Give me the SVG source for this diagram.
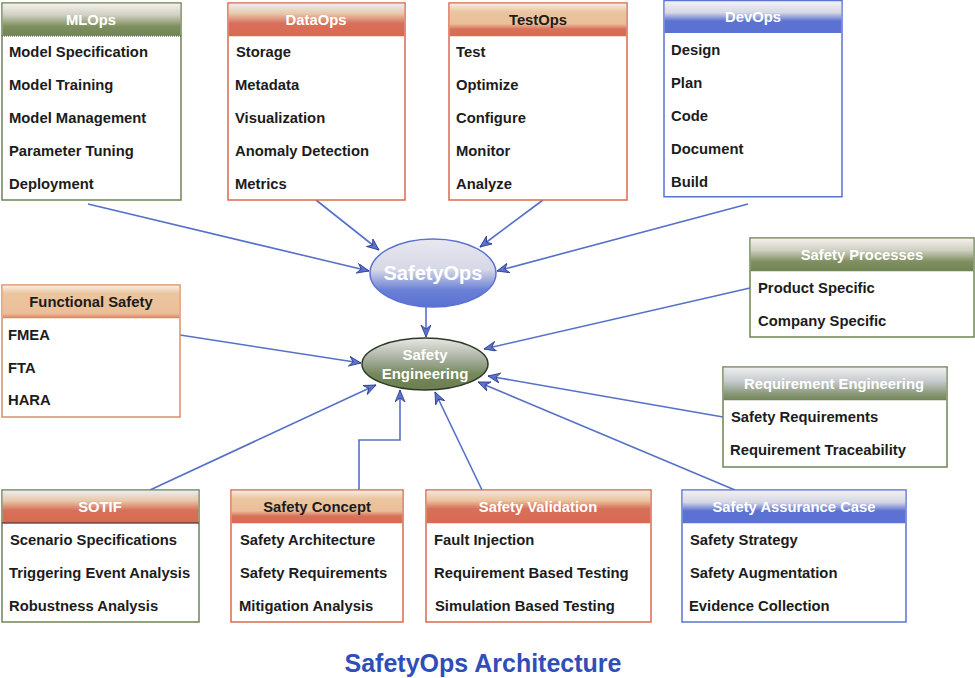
<svg xmlns="http://www.w3.org/2000/svg" width="975" height="678" viewBox="0 0 975 678">
<style>
.box{fill:#ffffff;stroke-width:1.5}
.it{font-family:"Liberation Sans",Arial,sans-serif;font-weight:bold;font-size:14.8px;fill:#1c1c1c}
.hw{font-family:"Liberation Sans",Arial,sans-serif;font-weight:bold;font-size:14.8px;fill:#ffffff;text-anchor:middle}
.hb{font-family:"Liberation Sans",Arial,sans-serif;font-weight:bold;font-size:14.8px;fill:#1c1c1c;text-anchor:middle}
.ol{stroke:#6f8456}
.rd{stroke:#d96a50}
.bl{stroke:#5a72d2}
.pc{stroke:#d9906a}
.conn{fill:none;stroke:#5570c8;stroke-width:1.6}
.title{font-family:"Liberation Sans",Arial,sans-serif;font-weight:bold;font-size:25px;fill:#2f4fb8;text-anchor:middle}
.ew{font-family:"Liberation Sans",Arial,sans-serif;font-weight:bold;fill:#ffffff;text-anchor:middle}
</style>
<defs>
<linearGradient id="gOl" x1="0" y1="0" x2="0" y2="1">
<stop offset="0" stop-color="#f4f0ec"/><stop offset="0.35" stop-color="#d0d0c4"/><stop offset="0.7" stop-color="#80905f"/><stop offset="1" stop-color="#6f8456"/>
</linearGradient>
<linearGradient id="gRd" x1="0" y1="0" x2="0" y2="1">
<stop offset="0" stop-color="#ececf0"/><stop offset="0.3" stop-color="#e8c8aa"/><stop offset="0.6" stop-color="#d8705a"/><stop offset="1" stop-color="#d86a50"/>
</linearGradient>
<linearGradient id="gPc" x1="0" y1="0" x2="0" y2="1">
<stop offset="0" stop-color="#f6ecdf"/><stop offset="0.25" stop-color="#ebc59e"/><stop offset="0.62" stop-color="#e9bf98"/><stop offset="0.78" stop-color="#d9705a"/><stop offset="1" stop-color="#d86a50"/>
</linearGradient>
<linearGradient id="gFs" x1="0" y1="0" x2="0" y2="1">
<stop offset="0" stop-color="#f6ecdf"/><stop offset="0.25" stop-color="#ebc59e"/><stop offset="0.85" stop-color="#e9bf98"/><stop offset="1" stop-color="#d9805f"/>
</linearGradient>
<linearGradient id="gSv" x1="0" y1="0" x2="0" y2="1">
<stop offset="0" stop-color="#f2e6d8"/><stop offset="0.3" stop-color="#ebc49e"/><stop offset="0.55" stop-color="#d8705a"/><stop offset="1" stop-color="#d86a50"/>
</linearGradient>
<linearGradient id="gBl" x1="0" y1="0" x2="0" y2="1">
<stop offset="0" stop-color="#f0f0f4"/><stop offset="0.35" stop-color="#d8d8e4"/><stop offset="0.62" stop-color="#5b72d2"/><stop offset="1" stop-color="#5a72d2"/>
</linearGradient>
<linearGradient id="gGo" x1="0" y1="0" x2="0" y2="1">
<stop offset="0" stop-color="#eeeeee"/><stop offset="0.4" stop-color="#c8ccd0"/><stop offset="0.8" stop-color="#8a9878"/><stop offset="1" stop-color="#6f8456"/>
</linearGradient>
<linearGradient id="eBl" x1="0" y1="0" x2="0" y2="1">
<stop offset="0" stop-color="#e8e8f0"/><stop offset="0.45" stop-color="#d6d8e6"/><stop offset="0.75" stop-color="#6a80d6"/><stop offset="1" stop-color="#5a72d2"/>
</linearGradient>
<linearGradient id="eOl" x1="0" y1="0" x2="0" y2="1">
<stop offset="0" stop-color="#e8e8e4"/><stop offset="0.4" stop-color="#a8b0a0"/><stop offset="0.7" stop-color="#74885a"/><stop offset="1" stop-color="#6a7e50"/>
</linearGradient>
<marker id="arr" markerUnits="userSpaceOnUse" markerWidth="14" markerHeight="12" refX="12" refY="5" orient="auto">
<path d="M0,0 L12,5 L0,10 L4,5 Z" fill="#5a72d2" stroke="#2a3a80" stroke-width="0.8"/>
</marker>
</defs>

<g id="connectors">
<line class="conn" x1="88" y1="204" x2="369" y2="271" marker-end="url(#arr)"/>
<line class="conn" x1="316" y1="200" x2="379" y2="250" marker-end="url(#arr)"/>
<line class="conn" x1="543" y1="200" x2="480" y2="247" marker-end="url(#arr)"/>
<line class="conn" x1="748" y1="204" x2="497" y2="271" marker-end="url(#arr)"/>
<line class="conn" x1="426" y1="307" x2="426" y2="337" marker-end="url(#arr)"/>
<line class="conn" x1="180" y1="335" x2="361" y2="363" marker-end="url(#arr)"/>
<line class="conn" x1="750" y1="288" x2="484" y2="349" marker-end="url(#arr)"/>
<line class="conn" x1="723" y1="417" x2="488" y2="376" marker-end="url(#arr)"/>
<line class="conn" x1="150" y1="490" x2="376" y2="385" marker-end="url(#arr)"/>
<polyline class="conn" points="359,490 359,440 400,440 400,390" marker-end="url(#arr)"/>
<line class="conn" x1="482" y1="490" x2="435" y2="392" marker-end="url(#arr)"/>
<line class="conn" x1="735" y1="490" x2="478" y2="382" marker-end="url(#arr)"/>
</g>

<g id="mlops">
<rect class="box ol" x="2" y="3" width="179" height="197"/>
<rect x="2.75" y="3.75" width="177.5" height="32" fill="url(#gOl)"/>
<line x1="2" y1="36" x2="181" y2="36" stroke="#3a4a30" stroke-width="1" stroke-dasharray="1,1"/>
<text class="hw" x="91" y="25">MLOps</text>
<text class="it" x="9" y="57">Model Specification</text>
<text class="it" x="9" y="90">Model Training</text>
<text class="it" x="9" y="123">Model Management</text>
<text class="it" x="9" y="156">Parameter Tuning</text>
<text class="it" x="9" y="189">Deployment</text>
</g>

<g id="dataops">
<rect class="box rd" x="228" y="3" width="177" height="197"/>
<rect x="228.75" y="3.75" width="175.5" height="32.5" fill="url(#gRd)"/>
<text class="hw" x="316" y="25">DataOps</text>
<text class="it" x="236" y="57">Storage</text>
<text class="it" x="235" y="90">Metadata</text>
<text class="it" x="235" y="123">Visualization</text>
<text class="it" x="235" y="156">Anomaly Detection</text>
<text class="it" x="235" y="189">Metrics</text>
</g>

<g id="testops">
<rect class="box rd" x="449" y="3" width="178" height="197"/>
<rect x="449.75" y="3.75" width="176.5" height="32.5" fill="url(#gPc)"/>
<text class="hb" x="538" y="25">TestOps</text>
<text class="it" x="456" y="57">Test</text>
<text class="it" x="456" y="90">Optimize</text>
<text class="it" x="456" y="123">Configure</text>
<text class="it" x="456" y="156">Monitor</text>
<text class="it" x="456" y="189">Analyze</text>
</g>

<g id="devops">
<rect class="box bl" x="664" y="0.75" width="178" height="196"/>
<rect x="664.75" y="1.5" width="176.5" height="31.5" fill="url(#gBl)"/>
<text class="hw" x="753" y="22">DevOps</text>
<text class="it" x="671" y="55">Design</text>
<text class="it" x="671" y="88">Plan</text>
<text class="it" x="671" y="121">Code</text>
<text class="it" x="671" y="154">Document</text>
<text class="it" x="671" y="187">Build</text>
</g>

<g id="safetyops">
<ellipse cx="433" cy="273" rx="63" ry="34" fill="url(#eBl)" stroke="#5a72d2" stroke-width="1.5"/>
<text class="ew" x="433" y="280" font-size="20">SafetyOps</text>
</g>

<g id="safety-engineering">
<ellipse cx="425" cy="364" rx="63" ry="26" fill="url(#eOl)" stroke="#2e3a26" stroke-width="1.5"/>
<text class="ew" x="425" y="360" font-size="15">Safety</text>
<text class="ew" x="425" y="379" font-size="15">Engineering</text>
</g>

<g id="functional-safety">
<rect class="box pc" x="2" y="285" width="178" height="132"/>
<rect x="2.75" y="285.75" width="176.5" height="32.5" fill="url(#gFs)"/>
<text class="hb" x="91" y="307">Functional Safety</text>
<text class="it" x="8" y="340">FMEA</text>
<text class="it" x="8" y="373">FTA</text>
<text class="it" x="8" y="405">HARA</text>
</g>

<g id="safety-processes">
<rect class="box ol" x="750" y="238" width="224" height="99"/>
<rect x="750.75" y="238.75" width="222.5" height="32.5" fill="url(#gOl)"/>
<text class="hw" x="862" y="260">Safety Processes</text>
<text class="it" x="758" y="293">Product Specific</text>
<text class="it" x="758" y="326">Company Specific</text>
</g>

<g id="requirement-engineering">
<rect class="box ol" x="723" y="367" width="224" height="100"/>
<rect x="723.75" y="367.75" width="222.5" height="32.5" fill="url(#gGo)"/>
<text class="hw" x="834" y="389">Requirement Engineering</text>
<text class="it" x="731" y="422">Safety Requirements</text>
<text class="it" x="730" y="455">Requirement Traceability</text>
</g>

<g id="sotif">
<rect class="box ol" x="2" y="490" width="197" height="132"/>
<rect x="2.75" y="490.75" width="195.5" height="32.5" fill="url(#gRd)"/>
<line x1="2" y1="523" x2="199" y2="523" stroke="#2a2a2a" stroke-width="1"/>
<text class="hw" x="100" y="512">SOTIF</text>
<text class="it" x="10" y="545">Scenario Specifications</text>
<text class="it" x="9" y="578">Triggering Event Analysis</text>
<text class="it" x="9" y="611">Robustness Analysis</text>
</g>

<g id="safety-concept">
<rect class="box rd" x="231" y="490" width="172" height="132"/>
<rect x="231.75" y="490.75" width="170.5" height="32.5" fill="url(#gPc)"/>
<text class="hb" x="317" y="512">Safety Concept</text>
<text class="it" x="240" y="545">Safety Architecture</text>
<text class="it" x="240" y="578">Safety Requirements</text>
<text class="it" x="239" y="611">Mitigation Analysis</text>
</g>

<g id="safety-validation">
<rect class="box rd" x="426" y="490" width="225" height="132"/>
<rect x="426.75" y="490.75" width="223.5" height="32.5" fill="url(#gSv)"/>
<text class="hw" x="538" y="512">Safety Validation</text>
<text class="it" x="434" y="545">Fault Injection</text>
<text class="it" x="434" y="578">Requirement Based Testing</text>
<text class="it" x="435" y="611">Simulation Based Testing</text>
</g>

<g id="safety-assurance-case">
<rect class="box bl" x="682" y="490" width="224" height="132"/>
<rect x="682.75" y="490.75" width="222.5" height="32.5" fill="url(#gBl)"/>
<text class="hw" x="794" y="512">Safety Assurance Case</text>
<text class="it" x="690" y="545">Safety Strategy</text>
<text class="it" x="690" y="578">Safety Augmentation</text>
<text class="it" x="689" y="611">Evidence Collection</text>
</g>

<text class="title" x="483" y="672">SafetyOps Architecture</text>
</svg>
